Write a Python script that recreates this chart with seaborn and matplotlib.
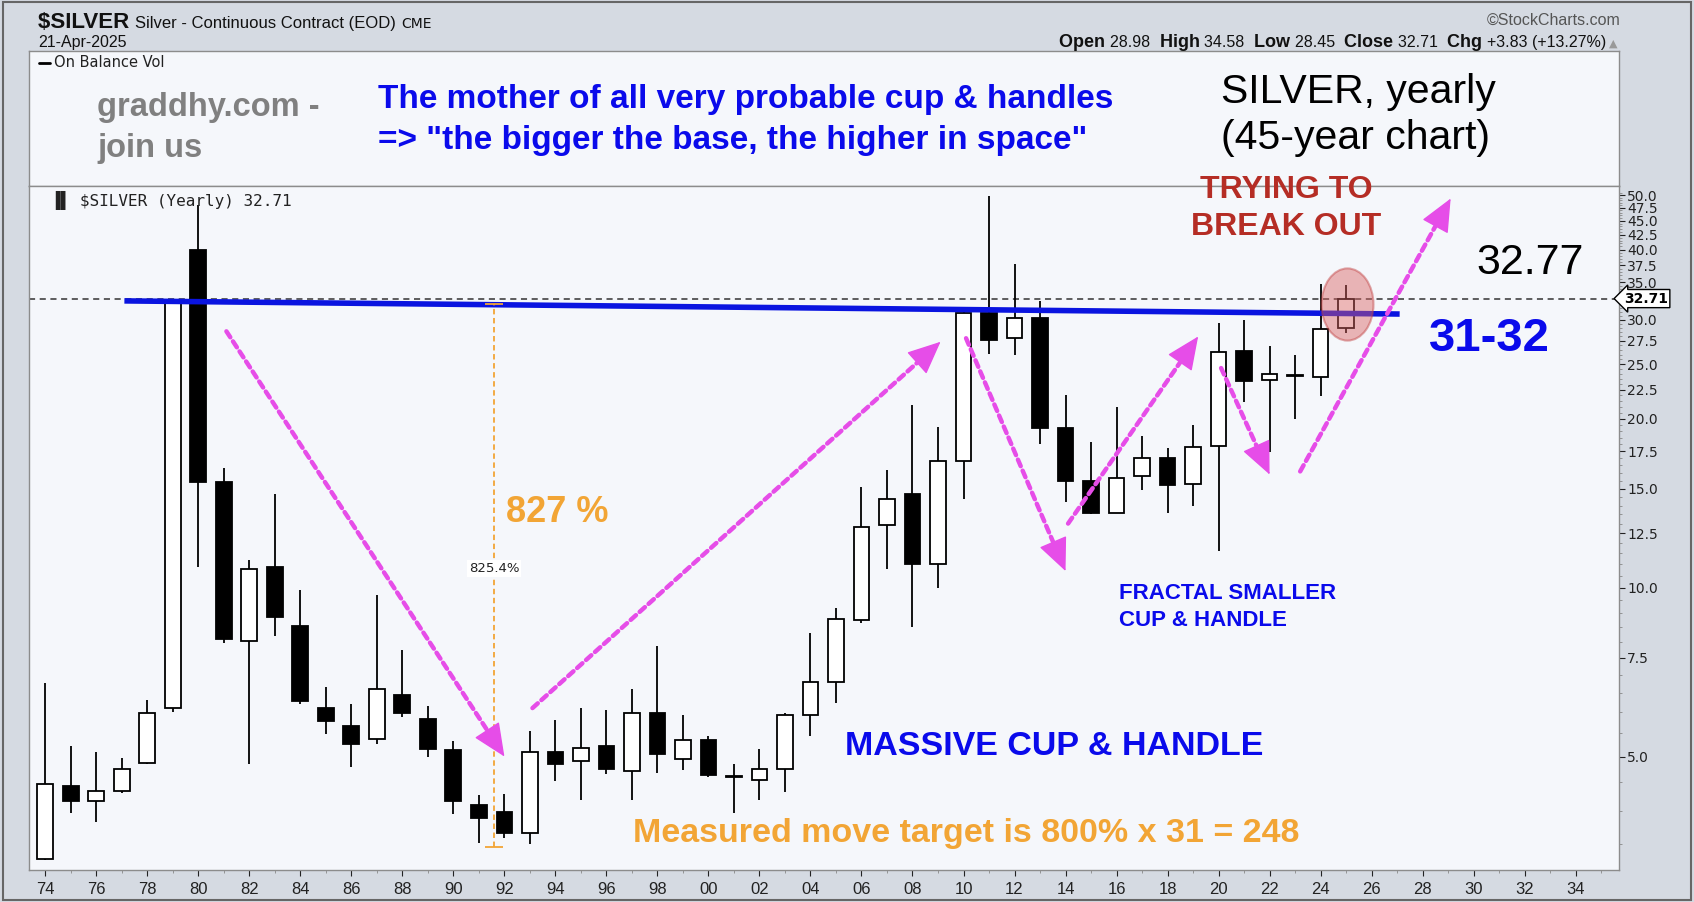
import numpy as np
import pandas as pd
import matplotlib
matplotlib.use("Agg")
import matplotlib.pyplot as plt
import seaborn as sns
from matplotlib import font_manager
from matplotlib.path import Path
from matplotlib.markers import MarkerStyle
from matplotlib.patches import Rectangle
from matplotlib.ticker import FixedLocator, FuncFormatter, NullFormatter
from matplotlib.transforms import blended_transform_factory

# yearly OHLC of $SILVER
years = list(range(1974, 2026))
opens = [3.28, 4.43, 4.16, 4.34, 4.87, 6.11, 40.0, 15.4, 8.03, 10.9,
         8.53, 6.09, 5.66, 5.37, 6.43, 5.84, 5.13, 4.10, 3.98, 3.66,
         5.09, 4.91, 5.23, 4.72, 5.98, 4.96, 5.36, 4.62, 4.54, 4.76,
         5.92, 6.80, 8.76, 12.9, 14.7, 11.0, 16.8, 30.8, 27.8, 30.2,
         19.2, 15.5, 13.6, 15.8, 17.0, 15.3, 17.9, 26.4, 23.4, 23.9,
         23.7, 28.98]
highs = [6.75, 5.23, 5.10, 4.98, 6.31, 32.3, 48.0, 16.3, 11.2, 14.7,
         9.90, 6.64, 6.20, 9.70, 7.74, 6.14, 5.33, 4.27, 4.28, 5.56,
         5.80, 6.10, 6.05, 6.60, 7.88, 5.92, 5.45, 4.85, 5.16, 5.98,
         8.30, 9.20, 15.1, 16.2, 21.1, 19.3, 30.9, 49.8, 37.7, 32.4,
         22.0, 18.2, 21.0, 18.6, 17.7, 19.5, 29.6, 29.9, 26.9, 25.9,
         34.7, 34.58]
lows = [3.27, 3.96, 3.82, 4.30, 4.85, 6.00, 10.9, 7.95, 4.85, 8.20,
        6.20, 5.49, 4.80, 5.27, 5.87, 4.99, 3.95, 3.51, 3.58, 3.50,
        4.53, 4.18, 4.65, 4.18, 4.67, 4.74, 4.60, 3.96, 4.18, 4.32,
        5.45, 6.23, 8.65, 10.8, 8.50, 10.0, 14.4, 26.1, 25.9, 18.0,
        14.2, 13.5, 13.6, 14.9, 13.6, 14.0, 11.6, 21.4, 17.4, 20.0,
        21.9, 28.45]
closes = [4.47, 4.16, 4.35, 4.76, 5.99, 32.2, 15.4, 8.10, 10.8, 8.88,
          6.28, 5.78, 5.26, 6.60, 5.97, 5.16, 4.16, 3.88, 3.66, 5.09,
          4.85, 5.18, 4.76, 5.98, 5.06, 5.36, 4.63, 4.60, 4.76, 5.92,
          6.80, 8.80, 12.8, 14.4, 11.0, 16.8, 30.8, 27.6, 30.2, 19.2,
          15.5, 13.6, 15.7, 17.0, 15.2, 17.8, 26.3, 23.3, 24.0, 23.8,
          28.9, 32.71]

last_close = 32.71
resistance_x = [1977.1, 2027.1]
resistance_y = [32.4, 30.7]
measure_x = 1991.6
measure_low = 3.45
measure_high = 31.93

# magenta swing arrows: (x0, y0, x1, y1)
swing_arrows = [
    (1981.1, 28.6, 1992.0, 5.0),
    (1993.1, 6.1, 2009.1, 27.4),
    (2010.1, 27.8, 2014.0, 10.7),
    (2014.1, 13.0, 2019.2, 28.0),
    (2020.1, 24.6, 2022.0, 15.9),
    (2023.2, 16.1, 2029.1, 49.3),
]

ytick_values = [5.0, 7.5, 10.0, 12.5, 15.0, 17.5, 20.0, 22.5, 25.0, 27.5,
                30.0, 35.0, 37.5, 40.0, 42.5, 45.0, 47.5, 50.0]
xtick_years = list(range(1974, 2035, 2))

BLUE = "#0a0aeb"
ORANGE = "#f2a535"
MAGENTA = "#e64de8"
DARKRED = "#b52d25"
PANEL = "#f5f7fb"
OUTER = "#d5dae2"

sns.set_theme(style="white")
names = {f.name for f in font_manager.fontManager.ttflist}
narrow = "Liberation Sans Narrow" if "Liberation Sans Narrow" in names else "Liberation Sans"
plt.rcParams["font.family"] = ["Liberation Sans", "DejaVu Sans"]

df = pd.DataFrame({"year": years, "open": opens, "high": highs,
                   "low": lows, "close": closes})
df["up"] = df.close >= df.open

fig = plt.figure(figsize=(16.94, 9.02), dpi=100, facecolor=OUTER)
ax = fig.add_axes([0.01712, 0.03548, 0.9386, 0.7583], facecolor=PANEL)
top = fig.add_axes([0.01712, 0.7938, 0.9386, 0.1497], facecolor=PANEL)
ax.set_zorder(3)
top.set_zorder(1)

for a in (ax, top):
    for sp in a.spines.values():
        sp.set_color("#8c8c8c")
        sp.set_linewidth(1.0)

# ---- candles
ax.set_yscale("log")
ax.vlines(df.year, df.low, df.high, color="black", lw=1.3, zorder=2)
ax.bar(df.year, (df.close - df.open).abs().clip(lower=0.02),
       bottom=df[["open", "close"]].min(axis=1), width=0.62,
       color=np.where(df.up, "white", "black"), edgecolor="black",
       lw=1.3, zorder=3)

ax.set_xlim(1973.36, 2035.7)
ax.set_ylim(3.14, 51.9)

ax.axhline(last_close, color="#333333", lw=1.1, ls=(0, (4, 3)), zorder=1)
ax.plot(resistance_x, resistance_y, color="#0a14e0", lw=4, zorder=4,
        solid_capstyle="butt")

# measured move
ax.vlines(measure_x, measure_low, measure_high, color=ORANGE, lw=1.3,
          ls=(0, (3, 2)), zorder=4)
ax.hlines([measure_low, measure_high], measure_x - 0.35, measure_x + 0.35,
          color=ORANGE, lw=1.3, zorder=4)
ax.text(measure_x, 10.8, "825.4%", ha="center", va="center", fontsize=9.5,
        family="DejaVu Sans", color="#222222", zorder=5,
        bbox=dict(boxstyle="square,pad=0.15", fc="white", ec="none"))
ax.text(1992.05, 13.6, "827 %", ha="left", va="center", fontsize=26,
        fontweight="bold", color=ORANGE, zorder=5)

for x0, y0, x1, y1 in swing_arrows:
    # dotted shaft
    ax.annotate("", xy=(x1, y1), xytext=(x0, y0), zorder=6,
                arrowprops=dict(arrowstyle="-", color=MAGENTA, lw=3.2,
                                ls=(0, (1.6, 1.1)), shrinkA=0, shrinkB=12))
    # solid head
    f = 0.02
    xb = x1 - (x1 - x0) * f
    yb = 10 ** (np.log10(y1) - (np.log10(y1) - np.log10(y0)) * f)
    ax.annotate("", xy=(x1, y1), xytext=(xb, yb), zorder=6,
                arrowprops=dict(arrowstyle="-|>,head_length=0.85,head_width=0.38",
                                color=MAGENTA, lw=1, mutation_scale=25,
                                shrinkA=0, shrinkB=0))

# highlight on the current candle
circ = Path.unit_circle()
ell = Path(circ.vertices * np.array([0.72, 1.0]), circ.codes)
sns.scatterplot(x=[2025.05], y=[32.0], marker=MarkerStyle(ell), s=2700,
                color="#d96060", alpha=0.45, edgecolor="#c04040",
                linewidth=1.5, ax=ax, zorder=7, legend=False)

ax.text(2022.66, 51.0, "TRYING TO", ha="center", va="center", fontsize=23,
        fontweight="bold", color=DARKRED, zorder=8, clip_on=False)
ax.text(2022.66, 43.9, "BREAK OUT", ha="center", va="center", fontsize=23,
        fontweight="bold", color=DARKRED, zorder=8)
ax.text(2032.2, 37.8, "32.77", ha="center", va="center", fontsize=31,
        color="black", zorder=8)
ax.text(2030.6, 27.7, "31-32", ha="center", va="center", fontsize=34,
        fontweight="bold", color=BLUE, zorder=8)
ax.text(2016.08, 9.74, "FRACTAL SMALLER", ha="left", va="center",
        fontsize=16, fontweight="bold", color=BLUE, zorder=8)
ax.text(2016.08, 8.72, "CUP & HANDLE", ha="left", va="center",
        fontsize=16, fontweight="bold", color=BLUE, zorder=8)
ax.text(2013.55, 5.22, "MASSIVE CUP & HANDLE", ha="center", va="center",
        fontsize=24.5, fontweight="bold", color=BLUE, zorder=8)
ax.text(2010.1, 3.65, "Measured move target is 800% x 31 = 248", ha="center",
        va="center", fontsize=24.5, fontweight="bold", color=ORANGE, zorder=8)

ax.text(0.014, 0.9795, "\u2590\u258c $SILVER (Yearly) 32.71", transform=ax.transAxes,
        ha="left", va="center", fontsize=11.5, family="DejaVu Sans Mono",
        color="#222222", zorder=8)

# ---- axes ticks
ax.yaxis.tick_right()
ax.yaxis.set_major_locator(FixedLocator(ytick_values))
ax.yaxis.set_major_formatter(FuncFormatter(lambda v, _: f"{v:.1f}"))
ax.yaxis.set_minor_locator(FixedLocator(np.arange(3.5, 51.0, 0.5)))
ax.yaxis.set_minor_formatter(NullFormatter())
ax.tick_params(axis="y", which="major", direction="out", length=4, width=0.8,
               pad=2, labelsize=10, colors="#222222", right=True, left=False)
ax.tick_params(axis="y", which="minor", direction="out", length=2, width=0.6,
               right=True, left=False, colors="#888888")
for lab in ax.get_yticklabels():
    lab.set_family("DejaVu Sans")
ax.text(1.003, last_close, "32.71",
        transform=blended_transform_factory(ax.transAxes, ax.transData),
        ha="left", va="center", fontsize=10, fontweight="bold",
        family="DejaVu Sans", color="black", zorder=9, clip_on=False,
        bbox=dict(boxstyle="larrow,pad=0.15", fc="white", ec="black", lw=1))

ax.xaxis.set_major_locator(FixedLocator(xtick_years))
ax.xaxis.set_major_formatter(FuncFormatter(lambda v, _: f"{int(v) % 100:02d}"))
ax.xaxis.set_minor_locator(FixedLocator(range(1974, 2036)))
ax.tick_params(axis="x", which="major", direction="out", length=4, width=0.8,
               pad=5, labelsize=12, colors="#222222", bottom=True)
ax.tick_params(axis="x", which="minor", direction="out", length=2, width=0.6,
               bottom=True, colors="#888888")
for lab in ax.get_xticklabels():
    lab.set_family(narrow)

# ---- upper (On Balance Vol) panel with the headline texts
top.set_xticks([])
top.set_yticks([])
top.plot([0.006, 0.013], [0.911, 0.911], color="black", lw=2,
         transform=top.transAxes)
top.text(0.016, 0.911, "On Balance Vol", transform=top.transAxes, ha="left",
         va="center", fontsize=10.5, family="DejaVu Sans", color="#222222")
top.text(0.0428, 0.578, "graddhy.com -", transform=top.transAxes, ha="left",
         va="center", fontsize=23.5, fontweight="bold", color="#808080")
top.text(0.0428, 0.281, "join us", transform=top.transAxes, ha="left",
         va="center", fontsize=23.5, fontweight="bold", color="#808080")
top.text(0.2195, 0.641, "The mother of all very probable cup & handles",
         transform=top.transAxes, ha="left", va="center", fontsize=24,
         fontweight="bold", color=BLUE)
top.text(0.2195, 0.337, '=> "the bigger the base, the higher in space"',
         transform=top.transAxes, ha="left", va="center", fontsize=24,
         fontweight="bold", color=BLUE)
top.text(0.7497, 0.698, "SILVER, yearly", transform=top.transAxes, ha="left",
         va="center", fontsize=29.5, color="black")
top.text(0.7497, 0.353, "(45-year chart)", transform=top.transAxes, ha="left",
         va="center", fontsize=29.5, color="black")

# ---- header
renderer = fig.canvas.get_renderer()
W = 1694.0


def text_run(x, y, pieces, align="left"):
    arts = []
    for s, kw in pieces:
        t = fig.text(0, y, s, va="baseline", ha="left", **kw)
        arts.append(t)
    widths = [t.get_window_extent(renderer).width / W for t in arts]
    start = x if align == "left" else x - sum(widths)
    for t, w in zip(arts, widths):
        t.set_x(start)
        start += w


text_run(38 / W, 1 - 28 / 902.0, [
    ("$SILVER ", dict(fontsize=16, fontweight="bold", family=narrow, color="#111")),
    ("Silver - Continuous Contract (EOD) ", dict(fontsize=12, family=narrow, color="#111")),
    ("CME", dict(fontsize=10, family="DejaVu Sans", color="#111")),
])
fig.text(38 / W, 1 - 47 / 902.0, "21-Apr-2025", fontsize=11.5, family=narrow,
         color="#111", va="baseline")
fig.text(1620 / W, 1 - 25 / 902.0, "\u00a9StockCharts.com", fontsize=11.5,
         family=narrow, color="#555555", ha="right", va="baseline")
hb = dict(fontsize=13, fontweight="bold", family=narrow, color="#111")
hn = dict(fontsize=11.5, family=narrow, color="#111")
text_run(1606 / W, 1 - 47 / 902.0, [
    ("Open ", hb), ("28.98  ", hn), ("High ", hb), ("34.58  ", hn),
    ("Low ", hb), ("28.45  ", hn), ("Close ", hb), ("32.71  ", hn),
    ("Chg ", hb), ("+3.83 (+13.27%)", hn),
], align="right")
fig.text(1609 / W, 1 - 47 / 902.0, "\u25b2", fontsize=8, family="DejaVu Sans",
         color="#999999", va="baseline")

fig.patches.append(Rectangle((0.002, 0.002), 0.996, 0.996, transform=fig.transFigure,
                             fill=False, ec="#666666", lw=1.5))

fig.savefig("out.png", dpi=100, facecolor=OUTER)
